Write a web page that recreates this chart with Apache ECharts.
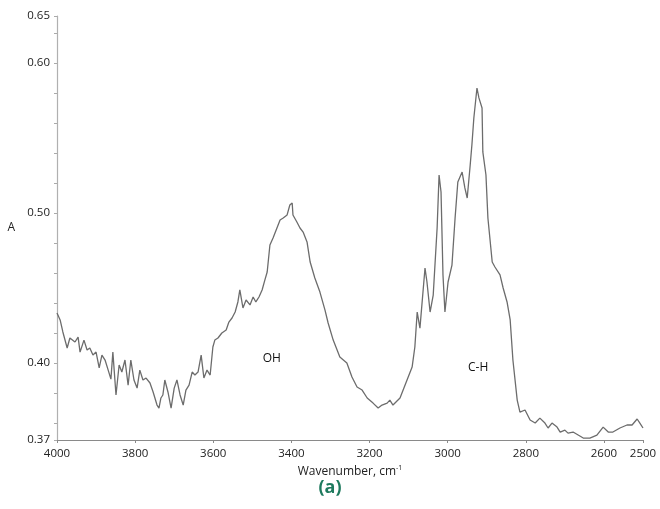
<!DOCTYPE html>
<html>
<head>
<meta charset="utf-8">
<script src="https://cdn.jsdelivr.net/npm/echarts@6/dist/echarts.min.js"></script>
<style>html,body{margin:0;padding:0;background:#fff}#c{width:660px;height:509px}</style>
</head>
<body>
<div id="c"></div>
<script>
// Wavenumber (cm-1) and absorbance
const wavenumber = [4000,3992,3985,3974,3967,3954,3946,3941,3931,3923,3916,3908,3900,3892,3885,3877,3869,3862,3857,3849,3841,3834,3826,3818,3811,3803,3795,3788,3780,3772,3762,3754,3744,3739,3734,3729,3724,3716,3708,3700,3693,3685,3677,3670,3662,3654,3647,3639,3631,3624,3616,3608,3601,3596,3588,3578,3567,3560,3552,3544,3537,3532,3524,3516,3506,3498,3491,3483,3475,3468,3462,3455,3447,3437,3429,3421,3411,3404,3398,3396,3386,3378,3370,3360,3352,3340,3327,3314,3306,3293,3283,3276,3258,3245,3232,3219,3206,3191,3178,3168,3155,3148,3140,3122,3104,3091,3084,3078,3071,3058,3053,3045,3037,3027,3022,3017,3012,3007,2999,2989,2981,2974,2963,2956,2950,2943,2938,2933,2925,2920,2912,2910,2902,2897,2886,2879,2866,2858,2848,2840,2833,2822,2815,2802,2789,2776,2764,2751,2743,2733,2720,2712,2700,2692,2679,2666,2653,2636,2618,2602,2589,2577,2559,2541,2528,2515,2508,2500];
const absorbance = [0.4333,0.4287,0.4207,0.4100,0.4167,0.4140,0.4173,0.4073,0.4153,0.4087,0.4100,0.4053,0.4073,0.3967,0.4053,0.4020,0.3953,0.3893,0.4073,0.3787,0.3987,0.3940,0.4020,0.3853,0.4020,0.3887,0.3833,0.3953,0.3887,0.3900,0.3867,0.3807,0.3720,0.3700,0.3767,0.3787,0.3887,0.3807,0.3700,0.3833,0.3887,0.3787,0.3720,0.3820,0.3853,0.3940,0.3920,0.3940,0.4053,0.3900,0.3953,0.3920,0.4107,0.4153,0.4167,0.4200,0.4220,0.4273,0.4300,0.4340,0.4407,0.4487,0.4367,0.4420,0.4387,0.4440,0.4407,0.4440,0.4487,0.4553,0.4607,0.4787,0.4833,0.4900,0.4953,0.4967,0.4987,0.5053,0.5067,0.4987,0.4940,0.4900,0.4873,0.4807,0.4673,0.4567,0.4473,0.4353,0.4267,0.4153,0.4087,0.4040,0.4000,0.3907,0.3840,0.3820,0.3767,0.3733,0.3700,0.3720,0.3733,0.3753,0.3720,0.3767,0.3887,0.3973,0.4107,0.4340,0.4233,0.4633,0.4540,0.4340,0.4453,0.4900,0.5253,0.5140,0.4587,0.4340,0.4540,0.4653,0.4967,0.5207,0.5273,0.5167,0.5100,0.5300,0.5453,0.5633,0.5833,0.5767,0.5700,0.5407,0.5253,0.4967,0.4673,0.4640,0.4587,0.4500,0.4407,0.4287,0.4020,0.3753,0.3673,0.3687,0.3620,0.3600,0.3633,0.3600,0.3567,0.3600,0.3573,0.3540,0.3553,0.3533,0.3540,0.3520,0.3500,0.3500,0.3520,0.3573,0.3540,0.3540,0.3567,0.3587,0.3587,0.3627,0.3600,0.3567];

const xTickValues = [4000,3800,3600,3400,3200,3000,2800,2600,2500];
const yMin = 0.3487, yMax = 0.6313;
const yLabelValues = [yMin, 0.40, 0.50, 0.60, yMax];
const yLabelTexts = ['0.37', '0.40', '0.50', '0.60', '0.65'];
const yTickValues = [yMin,0.36,0.38,0.40,0.42,0.44,0.46,0.48,0.50,0.52,0.54,0.56,0.58,0.60,0.62,yMax];

const bandLabels = ['OH', 'C-H'];
const bandPos = [[3450, 0.4027], [2922, 0.3973]];

const seriesData = wavenumber.map((w, i) => [w, absorbance[i]]);
const FONT = '"Open Sans", "Noto Sans", sans-serif';

const chart = echarts.init(document.getElementById('c'), null, {renderer: 'canvas'});
chart.setOption({
  animation: false,
  backgroundColor: '#fff',
  grid: {left: 57, right: 17, top: 16, bottom: 69, containLabel: false},
  xAxis: {
    type: 'value', inverse: true, min: 2500, max: 4000,
    name: '{n|Wavenumber, cm}{s|-1}', nameLocation: 'middle', nameGap: 23,
    nameTextStyle: {rich: {
      n: {fontFamily: FONT, fontSize: 12, color: '#222', verticalAlign: 'bottom'},
      s: {fontFamily: FONT, fontSize: 7, color: '#222', verticalAlign: 'top', padding: [0,0,6,0]}
    }},
    axisLine: {show: true, lineStyle: {color: '#8a8a8a', width: 1.2}},
    axisTick: {show: true, customValues: xTickValues, length: 3, lineStyle: {color: '#8a8a8a'}},
    axisLabel: {customValues: xTickValues, fontFamily: FONT, fontSize: 11.5, color: '#222', margin: 8,
      formatter: v => String(Math.round(v))},
    splitLine: {show: false}
  },
  yAxis: {
    type: 'value', min: yMin, max: yMax,
    name: 'A', nameLocation: 'middle', nameRotate: 0, nameGap: 42,
    nameTextStyle: {fontFamily: FONT, fontSize: 12, color: '#222'},
    axisLine: {show: true, lineStyle: {color: '#b0b0b0', width: 1.2}},
    axisTick: {show: true, customValues: yTickValues, length: 3, lineStyle: {color: '#aaa'}},
    axisLabel: {
      customValues: yLabelValues, fontFamily: FONT, fontSize: 11.5, color: '#222', margin: 7,
      formatter: v => {
        let best = 0;
        for (let i = 1; i < yLabelValues.length; i++) if (Math.abs(yLabelValues[i]-v) < Math.abs(yLabelValues[best]-v)) best = i;
        return yLabelTexts[best];
      }
    },
    splitLine: {show: false}
  },
  series: [{
    type: 'line', data: seriesData, symbol: 'none',
    lineStyle: {color: '#6c6c6c', width: 1.3},
    markPoint: {
      symbol: 'circle', symbolSize: 0,
      label: {show: true, position: 'inside', fontFamily: FONT, fontSize: 12, color: '#111', formatter: p => p.name},
      data: bandLabels.map((t, i) => ({name: t, coord: bandPos[i]}))
    }
  }],
  graphic: [{
    type: 'text', left: 'center', top: 479,
    style: {text: '(a)', fontFamily: FONT, fontSize: 18, fontWeight: 'bold', fill: '#1e7a5e'}
  }]
});
</script>
</body>
</html>
